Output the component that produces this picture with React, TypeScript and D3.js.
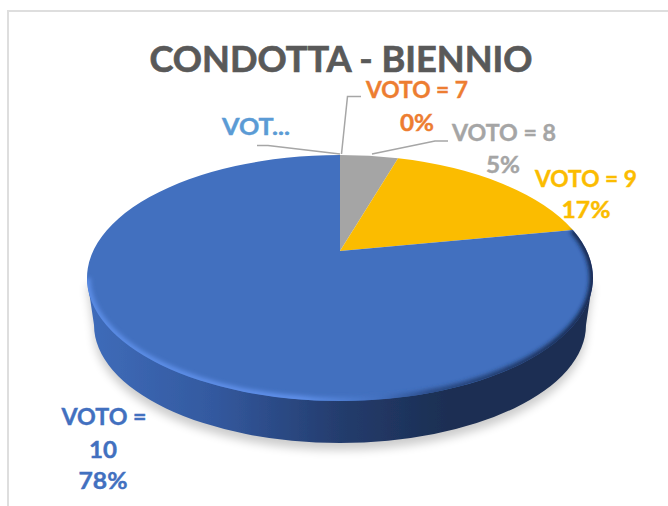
import React from "react";
import * as d3 from "d3";

const categories = ["VOTO = 6", "VOTO = 7", "VOTO = 8", "VOTO = 9", "VOTO = 10"];
const values = [0, 0, 4.6, 17.4, 78];
const colors = ["#5B9BD5", "#ED7D31", "#A5A5A5", "#FBBC00", "#4270BF"];
const titleText = "CONDOTTA - BIENNIO";

// Text layout, one entry per label line
const labelLines = [
  { i: 0, text: "VOT...", x: 256, y: 135, len: 68 },
  { i: 1, text: "VOTO = 7", x: 417, y: 98, len: 102 },
  { i: 1, text: "0%", x: 417, y: 131, len: 34 },
  { i: 2, text: "VOTO = 8", x: 504, y: 141, len: 104 },
  { i: 2, text: "5%", x: 503, y: 173, len: 34 },
  { i: 3, text: "VOTO = 9", x: 586, y: 187, len: 102 },
  { i: 3, text: "17%", x: 586, y: 218, len: 49 },
  { i: 4, text: "VOTO =", x: 104, y: 425, len: 85 },
  { i: 4, text: "10", x: 103, y: 458, len: 28 },
  { i: 4, text: "78%", x: 103, y: 489, len: 49 },
];
const leaders = [
  { i: 0, pts: [[257, 145.5], [268, 145.5], [340, 154]] },
  { i: 1, pts: [[341.5, 154], [347.5, 96.5], [361, 96.5]] },
  { i: 2, pts: [[372, 154], [435, 141], [448, 141]] },
];

// Top face ellipse and the lower rim of the disc
const cx = 340, cy = 278, rx = 253, ry = 123;
const lowRx = 246, lowRy = 118, lowCy = 325;
const apexY = 251;

const xScale = d3.scaleLinear().domain([-1, 1]).range([cx - rx, cx + rx]);
const yScale = d3.scaleLinear().domain([-1, 1]).range([cy - ry, cy + ry]);
const beta = yScale.invert(apexY);

// Perspective of the tilted disc: a circle point onto the top ellipse
function project(angle: number): [number, number] {
  const u = Math.sin(angle), v = -Math.cos(angle);
  const w = 1 + beta * v;
  return [xScale((u * Math.sqrt(1 - beta * beta)) / w), yScale((v + beta) / w)];
}

const arcs = d3.pie<number>().sort(null).value((d) => d)(values);
const lineGen = d3.line();

function slicePath(a: d3.PieArcDatum<number>) {
  const [x0, y0] = project(a.startAngle);
  const [x1, y1] = project(a.endAngle);
  const large = a.endAngle - a.startAngle > Math.PI ? 1 : 0;
  return `M${cx},${apexY}L${x0},${y0}A${rx},${ry} 0 ${large} 1 ${x1},${y1}Z`;
}

const wallPath = `M${cx - rx},${cy}L${cx - lowRx},${lowCy}A${lowRx},${lowRy} 0 0 0 ${cx + lowRx},${lowCy}L${cx + rx},${cy}Z`;
const [edgeX, edgeY] = project(arcs[3].endAngle);
const bevelPath = `M${edgeX},${edgeY}A${rx},${ry} 0 1 1 ${cx - rx},${cy}`;

export default function App() {
  return (
    <svg
      width={668}
      height={506}
      style={{ position: "absolute", left: 0, top: 0, background: "#fff" }}
      fontFamily="Lato, 'Open Sans', sans-serif"
      fontWeight={700}
    >
      <defs>
        <linearGradient id="wall" gradientUnits="userSpaceOnUse" x1={cx - rx} x2={cx + rx} y1={0} y2={0}>
          <stop offset="0" stopColor="#3f6cba" />
          <stop offset="0.25" stopColor="#33599f" />
          <stop offset="0.5" stopColor="#243c6d" />
          <stop offset="0.72" stopColor="#1b2e52" />
          <stop offset="1" stopColor="#1b2e52" />
        </linearGradient>
        <linearGradient id="bevel" gradientUnits="userSpaceOnUse" x1={cx - rx} x2={cx + rx} y1={0} y2={0}>
          <stop offset="0" stopColor="#5c8de6" />
          <stop offset="0.42" stopColor="#5f90ea" />
          <stop offset="0.58" stopColor="#4270bf" />
          <stop offset="0.68" stopColor="#2a4a85" />
          <stop offset="1" stopColor="#14264a" />
        </linearGradient>
        <clipPath id="face">
          <ellipse cx={cx} cy={cy} rx={rx} ry={ry} />
        </clipPath>
        <filter id="shadow" x="-10%" y="-10%" width="120%" height="120%">
          <feGaussianBlur stdDeviation="5" />
        </filter>
        <filter id="soft" x="-10%" y="-10%" width="120%" height="120%">
          <feGaussianBlur stdDeviation="2.2" />
        </filter>
        <filter id="tiny" x="-5%" y="-5%" width="110%" height="110%">
          <feGaussianBlur stdDeviation="0.45" />
        </filter>
      </defs>

      <path d="M8,506V11H668" fill="none" stroke="#dedede" strokeWidth={2} />

      <path d={wallPath} transform="translate(0,7)" fill="#000" opacity={0.2} filter="url(#shadow)" />
      <g filter="url(#tiny)">
        <path d={wallPath} fill="url(#wall)" />
        {arcs.map((a, i) => (
          <path key={categories[i]} d={slicePath(a)} fill={colors[i]} />
        ))}
      </g>
      <g clipPath="url(#face)">
        <path d={bevelPath} fill="none" stroke="url(#bevel)" strokeWidth={7} filter="url(#soft)" />
      </g>

      {leaders.map((l) => (
        <path
          key={l.i}
          d={lineGen(l.pts as [number, number][]) ?? ""}
          fill="none"
          stroke="#A6A6A6"
          strokeWidth={1.5}
        />
      ))}

      <text
        x={341}
        y={72}
        textAnchor="middle"
        fontSize={37}
        fill="#595959"
        stroke="#595959"
        strokeWidth={0.7}
        textLength={383}
        lengthAdjust="spacingAndGlyphs"
      >
        {titleText}
      </text>
      {labelLines.map((t, k) => (
        <text
          key={k}
          x={t.x}
          y={t.y}
          textAnchor="middle"
          fontSize={22}
          fill={colors[t.i]}
          stroke={colors[t.i]}
          strokeWidth={0.4}
          textLength={t.len}
          lengthAdjust="spacingAndGlyphs"
        >
          {t.text}
        </text>
      ))}
    </svg>
  );
}
